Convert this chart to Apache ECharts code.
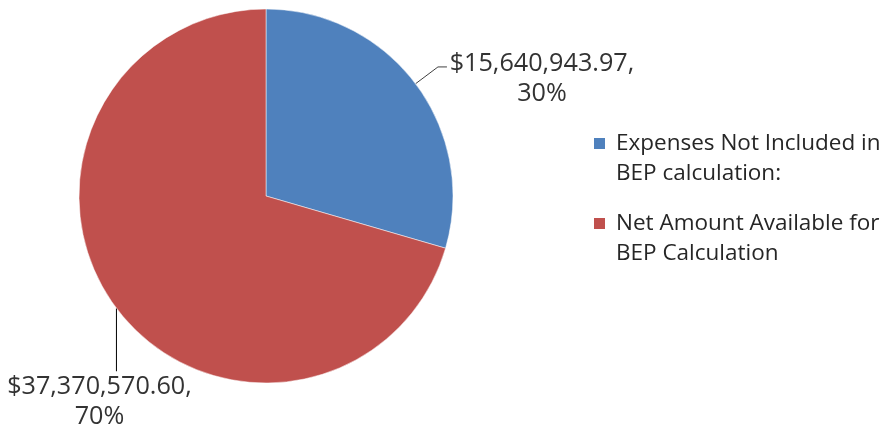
<!DOCTYPE html>
<html>
<head>
<meta charset="utf-8">
<script src="https://cdn.jsdelivr.net/npm/echarts@6/dist/echarts.min.js"></script>
<style>
html, body { margin: 0; padding: 0; background: #fff; }
#main { width: 892px; height: 430px; }
</style>
</head>
<body>
<div id="main"></div>
<script>
var categories = ['Expenses Not Included in\nBEP calculation:', 'Net Amount Available for\nBEP Calculation'];
var values = [15640943.97, 37370570.60];
var colors = ['#4F81BD', '#C0504D'];

var font = 'Open Sans';
var legendSize = 22.5;
var labelSize = 25.2;
var chart = echarts.init(document.getElementById('main'));

function money(v) {
    return '$' + v.toLocaleString('en-US', {minimumFractionDigits: 2, maximumFractionDigits: 2});
}

var data = values.map(function (v, i) {
    return {
        name: categories[i],
        value: v,
        itemStyle: {color: colors[i]},
        label: {padding: i === 0 ? [24, 0, 0, 0] : 0},
        labelLine: {lineStyle: {color: i === 0 ? '#404040' : '#000'}}
    };
});

// one legend per item so each can sit where the reference puts it
function legendFor(i, top) {
    var txt = {fontFamily: font, fontSize: legendSize, color: '#262626', lineHeight: 30, padding: [30, 0, 0, 5]};
    return {
        data: [categories[i]],
        left: 592,
        top: top,
        padding: 0,
        orient: 'vertical',
        icon: 'rect',
        itemWidth: 13,
        itemHeight: 13,
        selectedMode: false,
        formatter: function (name) {
            var l = name.split('\n');
            return '{a|' + l[0] + '}\n{a|' + l[1] + '}';
        },
        textStyle: {
            fontFamily: font, fontSize: legendSize, color: '#262626',
            rich: {a: txt}
        }
    };
}

var option = {
    animation: false,
    legend: [legendFor(0, 102), legendFor(1, 182)],
    series: [
        {
            type: 'pie',
            center: [266, 196],
            radius: 187,
            startAngle: 90,
            clockwise: true,
            percentPrecision: 0,
            data: data,
            itemStyle: {borderColor: '#fff', borderWidth: 0.5},
            label: {
                show: true,
                position: 'outside',
                width: 190,
                overflow: 'none',
                distanceToLabelLine: 0,
                formatter: function (p) {
                    return '{t|' + money(p.value) + ',}\n{t|' + p.percent + '%}';
                },
                rich: {
                    t: {fontFamily: font, fontSize: labelSize, color: '#333', width: 190, align: 'center', lineHeight: 30}
                }
            },
            labelLine: {show: true, length: 28, length2: 9, lineStyle: {width: 1}},
            labelLayout: function (p) {
                if (p.dataIndex !== 1) return {};
                var a = p.labelLinePoints[0];
                return {
                    x: a[0] - 17,
                    y: a[1] + 64,
                    align: 'center',
                    verticalAlign: 'top',
                    labelLinePoints: [[a[0], a[1]], [a[0], a[1] + 63], [a[0], a[1] + 63]]
                };
            }
        }
    ]
};
chart.setOption(option);
</script>
</body>
</html>
